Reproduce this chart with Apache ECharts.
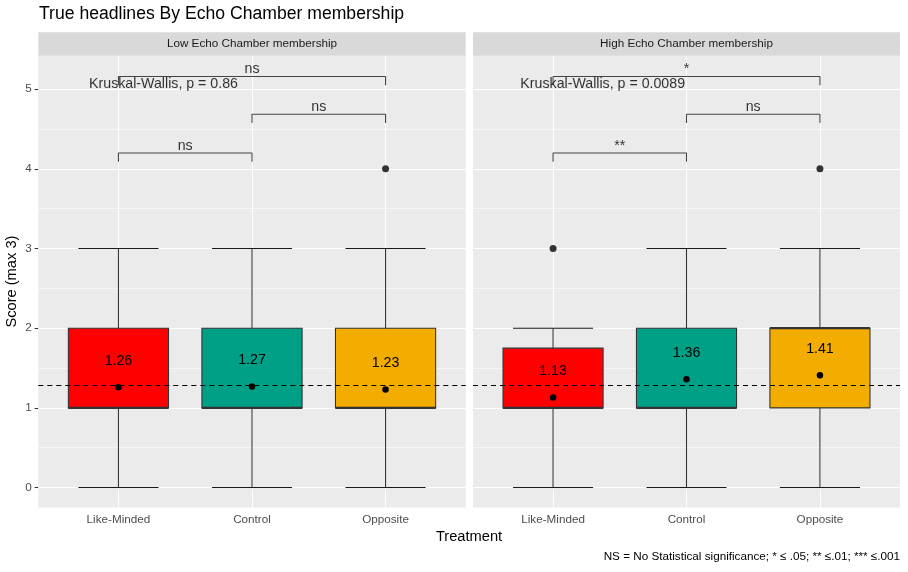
<!DOCTYPE html>
<html>
<head>
<meta charset="utf-8">
<script src="https://cdn.jsdelivr.net/npm/echarts@6/dist/echarts.min.js"></script>
<style>
html,body{margin:0;padding:0;background:#fff;}
#c{width:908px;height:572px;}
</style>
</head>
<body>
<div id="c"></div>
<script>
// ---------- data ----------
const categories = ['Like-Minded', 'Control', 'Opposite'];
const catPos = [1, 2, 3];
const panels = ['Low Echo Chamber membership', 'High Echo Chamber membership'];
const fillColors = ['#FF0000', '#00A087', '#F3AD00'];
// box stats: [min, Q1, median, Q3, max]
const boxLow = [[0, 1, 1, 2, 3], [0, 1, 1, 2, 3], [0, 1, 1, 2, 3]];
const boxHigh = [[0, 1, 1, 1.75, 2], [0, 1, 1, 2, 3], [0, 1, 2, 2, 3]];
const meansLow = [1.26, 1.27, 1.23];
const meansHigh = [1.13, 1.36, 1.41];
const outliersLow = [[3, 4]];
const outliersHigh = [[1, 3], [3, 4]];
const overallMean = 1.28;
const bracketPairs = [[1, 2], [2, 3], [1, 3]];
const bracketY = [4.2, 4.685, 5.16];
const bracketTip = 0.11;
const sigLow = ['ns', 'ns', 'ns'];
const sigHigh = ['**', 'ns', '*'];
const kwLow = 'Kruskal-Wallis, p = 0.86';
const kwHigh = 'Kruskal-Wallis, p = 0.0089';
const kwPosLow = [0.78, 5.06];
const kwPosHigh = [0.755, 5.06];
const yTicks = [0, 1, 2, 3, 4, 5];
const yMinor = [0.5, 1.5, 2.5, 3.5, 4.5];
const yMin = -0.25, yMax = 5.42;
const xMin = 0.4, xMax = 3.6;
const boxWidth = 0.75, capWidth = 0.6;

// ---------- layout ----------
const FONT = 'Liberation Sans, Arial, sans-serif';
const gridDefs = [
  {left: 38.3, top: 55.7, width: 427.4, height: 451.8},
  {left: 473, top: 55.7, width: 427, height: 451.8}
];

function makeAxes(gi) {
  const x = {
    type: 'value', gridIndex: gi, min: xMin, max: xMax,
    axisLine: {show: false},
    splitLine: {show: false},
    axisTick: {show: true, length: 3.7, customValues: catPos, lineStyle: {color: '#333333', width: 1.07}},
    axisLabel: {show: true, customValues: catPos, margin: 6.3, color: '#4D4D4D', fontSize: 11.7, fontFamily: FONT,
      formatter: v => categories[Math.round(v) - 1] || ''}
  };
  const y = {
    type: 'value', gridIndex: gi, min: yMin, max: yMax,
    axisLine: {show: false},
    splitLine: {show: false},
    axisTick: {show: gi === 0, length: 3.7, customValues: yTicks, lineStyle: {color: '#333333', width: 1.07}},
    axisLabel: {show: gi === 0, customValues: yTicks, margin: 6.6, color: '#4D4D4D', fontSize: 11.7, fontFamily: FONT,
      formatter: v => String(v)}
  };
  return {x, y};
}

const xAxes = [], yAxes = [];
for (let g = 0; g < 2; g++) { const a = makeAxes(g); xAxes.push(a.x); yAxes.push(a.y); }

function boxRender(params, api) {
  const x = api.value(0);
  const mn = api.value(1), q1 = api.value(2), md = api.value(3), q3 = api.value(4), mx = api.value(5);
  const hw = api.size([boxWidth, 0])[0] / 2;
  const cw = api.size([capWidth, 0])[0] / 2;
  const pMin = api.coord([x, mn]), pQ1 = api.coord([x, q1]), pMd = api.coord([x, md]);
  const pQ3 = api.coord([x, q3]), pMax = api.coord([x, mx]);
  const cx = pMin[0];
  const stroke = '#333333';
  const lw = 1.07;
  const color = api.visual('color');
  return {
    type: 'group',
    children: [
      {type: 'line', shape: {x1: cx, y1: pMax[1], x2: cx, y2: pQ3[1]}, style: {stroke, lineWidth: lw}},
      {type: 'line', shape: {x1: cx, y1: pQ1[1], x2: cx, y2: pMin[1]}, style: {stroke, lineWidth: lw}},
      {type: 'line', shape: {x1: cx - cw, y1: pMax[1], x2: cx + cw, y2: pMax[1]}, style: {stroke: '#1a1a1a', lineWidth: lw}},
      {type: 'line', shape: {x1: cx - cw, y1: pMin[1], x2: cx + cw, y2: pMin[1]}, style: {stroke: '#1a1a1a', lineWidth: lw}},
      {type: 'rect', shape: {x: cx - hw, y: pQ3[1], width: hw * 2, height: pQ1[1] - pQ3[1]}, style: {fill: color, stroke, lineWidth: lw}},
      {type: 'line', shape: {x1: cx - hw, y1: pMd[1], x2: cx + hw, y2: pMd[1]}, style: {stroke, lineWidth: 2.2}}
    ]
  };
}

const series = [];
const panelData = [
  {box: boxLow, means: meansLow, out: outliersLow, sig: sigLow, kw: kwLow, kwPos: kwPosLow},
  {box: boxHigh, means: meansHigh, out: outliersHigh, sig: sigHigh, kw: kwHigh, kwPos: kwPosHigh}
];

panelData.forEach((pd, g) => {
  // grid lines (white) via markLines on an empty series
  const gl = [];
  yMinor.forEach(v => gl.push({yAxis: v, lineStyle: {color: '#FFFFFF', width: 0.55, type: 'solid'}}));
  yTicks.forEach(v => gl.push({yAxis: v, lineStyle: {color: '#FFFFFF', width: 1.07, type: 'solid'}}));
  catPos.forEach(v => gl.push({xAxis: v, lineStyle: {color: '#FFFFFF', width: 1.07, type: 'solid'}}));
  series.push({
    type: 'line', xAxisIndex: g, yAxisIndex: g, data: [], z: 1, silent: true,
    markLine: {silent: true, z: 1, symbol: ['none', 'none'], label: {show: false}, animation: false, data: gl}
  });
  // boxes
  series.push({
    type: 'custom', xAxisIndex: g, yAxisIndex: g, z: 3, silent: true,
    renderItem: boxRender,
    encode: {x: 0, y: [1, 2, 3, 4, 5]},
    data: pd.box.map((b, i) => ({value: [catPos[i]].concat(b), itemStyle: {color: fillColors[i]}}))
  });
  // outliers
  series.push({
    type: 'scatter', xAxisIndex: g, yAxisIndex: g, z: 4, silent: true,
    symbolSize: 7, itemStyle: {color: '#333333', opacity: 1},
    data: pd.out
  });
  // overall mean dashed line
  series.push({
    type: 'line', xAxisIndex: g, yAxisIndex: g, data: [], z: 5, silent: true,
    markLine: {silent: true, z: 5, symbol: ['none', 'none'], label: {show: false}, animation: false,
      data: [{yAxis: overallMean, lineStyle: {color: '#000000', width: 1.07, type: [5, 4]}}]}
  });
  // means with labels
  series.push({
    type: 'scatter', xAxisIndex: g, yAxisIndex: g, z: 6, silent: true,
    symbolSize: 6.5, itemStyle: {color: '#000000', opacity: 1},
    label: {show: true, position: 'inside', offset: [0, -26], color: '#000000', fontSize: 14.2, fontFamily: FONT,
      formatter: p => p.value[1].toFixed(2)},
    data: pd.means.map((m, i) => [catPos[i], m])
  });
  // brackets
  bracketPairs.forEach((pr, k) => {
    const yb = bracketY[k];
    series.push({
      type: 'line', xAxisIndex: g, yAxisIndex: g, z: 7, silent: true, symbol: 'none',
      lineStyle: {color: '#444444', width: 1.07},
      data: [[pr[0], yb - bracketTip], [pr[0], yb], [pr[1], yb], [pr[1], yb - bracketTip]]
    });
    series.push({
      type: 'scatter', xAxisIndex: g, yAxisIndex: g, z: 8, silent: true, symbolSize: 0,
      label: {show: true, position: 'top', distance: 0, color: '#000000', fontSize: 14.2, fontFamily: FONT,
        formatter: () => pd.sig[k]},
      data: [[(pr[0] + pr[1]) / 2, yb]]
    });
  });
  // Kruskal-Wallis text
  series.push({
    type: 'scatter', xAxisIndex: g, yAxisIndex: g, z: 9, silent: true, symbolSize: 0,
    label: {show: true, position: 'right', distance: 0, color: '#000000', fontSize: 14.2, fontFamily: FONT,
      formatter: () => pd.kw},
    data: [pd.kwPos]
  });
});

const graphics = [];
panels.forEach((name, g) => {
  const gd = gridDefs[g];
  graphics.push({type: 'rect', left: gd.left, top: 32.3, shape: {width: gd.width, height: 23.4}, style: {fill: '#D9D9D9'}, z: 0});
  graphics.push({type: 'text', x: gd.left + gd.width / 2, y: 44, style: {text: name, fill: '#1A1A1A', font: '11.7px ' + FONT, textAlign: 'center', textVerticalAlign: 'middle'}, z: 1});
});
graphics.push({type: 'text', x: 39, y: 14.5, style: {text: 'True headlines By Echo Chamber membership', fill: '#000000', font: '17.6px ' + FONT, textAlign: 'left', textVerticalAlign: 'middle'}});
graphics.push({type: 'text', x: 469, y: 537, style: {text: 'Treatment', fill: '#000000', font: '14.67px ' + FONT, textAlign: 'center', textVerticalAlign: 'middle'}});
graphics.push({type: 'text', x: 12, y: 281.6, rotation: Math.PI / 2, style: {text: 'Score (max 3)', fill: '#000000', font: '14.67px ' + FONT, textAlign: 'center', textVerticalAlign: 'middle'}});
graphics.push({type: 'text', x: 900, y: 556.5, style: {text: 'NS = No Statistical significance; * ≤ .05; ** ≤.01; *** ≤.001', fill: '#000000', font: '11.7px ' + FONT, textAlign: 'right', textVerticalAlign: 'middle'}});

const chart = echarts.init(document.getElementById('c'), null, {renderer: 'canvas'});
chart.setOption({
  animation: false,
  backgroundColor: '#FFFFFF',
  grid: gridDefs.map(gd => Object.assign({show: true, backgroundColor: '#EBEBEB', borderWidth: 0, containLabel: false}, gd)),
  xAxis: xAxes,
  yAxis: yAxes,
  series: series,
  graphic: graphics
});
</script>
</body>
</html>
